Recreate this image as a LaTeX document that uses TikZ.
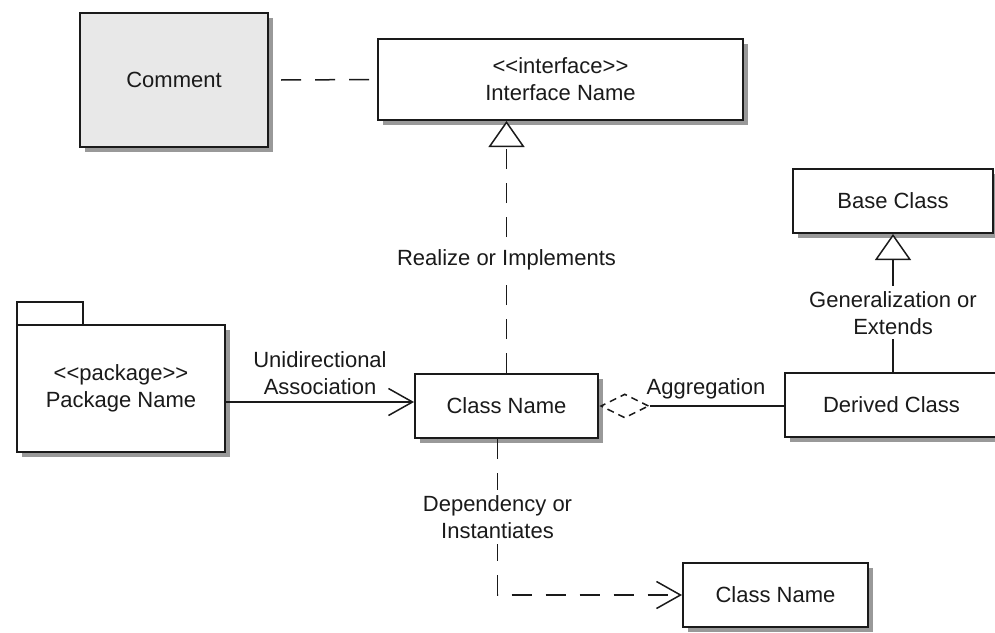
\documentclass[tikz,border=0pt]{standalone}
\usepackage{fontspec}
\setmainfont{Liberation Sans}[Ligatures=TeXOff]
\usetikzlibrary{arrows.meta,shadows,shapes.geometric}
\definecolor{ink}{HTML}{1A1A1A}
\definecolor{commentfill}{HTML}{E8E8E8}
\definecolor{shade}{HTML}{999999}
\tikzset{
  umlbox/.style={draw=ink, line width=2pt, fill=white, align=center, inner sep=0pt,
    font=\fontsize{22}{27}\selectfont, text=ink,
    drop shadow={shadow xshift=4.5pt, shadow yshift=-4.5pt, fill=shade, opacity=1}},
  conn/.style={draw=ink, line width=1.5pt},
  dashline/.style={conn, dash pattern=on 20pt off 14pt},
  lbl/.style={font=\fontsize{22}{27}\selectfont, text=ink, align=center, inner sep=3pt},
  gaplbl/.style={lbl, fill=white, inner sep=5pt},
  openhead/.style={-{Straight Barb[length=24pt,width=27pt,line width=1.5pt]}},
  trihead/.style={-{Triangle[length=26pt,width=36pt,fill=white,line width=1.5pt]}},
}
\begin{document}
\begin{tikzpicture}[x=1pt,y=-1pt]
\useasboundingbox (0,0) rectangle (995,632);
% nodes
\node[umlbox, fill=commentfill, minimum width=188pt, minimum height=134pt] (comment) at (174,80) {Comment};
\node[umlbox, minimum width=365pt, minimum height=81pt] (iface) at (560.5,79.5) {<<interface>>\\Interface Name};
\node[umlbox, minimum width=200pt, minimum height=64pt] (base) at (893,201) {Base Class};
\node[umlbox, minimum width=213pt, minimum height=64pt] (derived) at (891.5,405) {Derived Class};
\node[umlbox, minimum width=183pt, minimum height=64pt] (cls) at (506.5,406) {Class Name};
\node[umlbox, minimum width=185pt, minimum height=64pt] (cls2) at (775.5,595) {Class Name};
% package
\node[draw=ink, line width=2pt, fill=white, minimum width=66pt, minimum height=23pt, inner sep=0pt] (tab) at (50,313.5) {};
\node[umlbox, minimum width=208pt, minimum height=127pt] (pkg) at (121,388.5) {<<package>>\\Package Name};
% aggregation diamond
\node[diamond, draw=ink, line width=1.5pt, dash pattern=on 7pt off 5pt, fill=white, minimum width=48pt, minimum height=24pt, inner sep=0pt, anchor=west] (agg) at ([xshift=1pt]cls.east) {};
% connectors
\coordinate (cstart) at ([xshift=12pt]comment.east);
\draw[dashline] (cstart) -- (iface.west);
\draw[dashline, trihead] (cls.north) -- node[gaplbl, pos=0.449] {Realize or Implements} (cls.north |- iface.south);
\draw[conn, trihead] (derived.north -| base.south) -- node[gaplbl, pos=0.43] {Generalization or\\Extends} (base.south);
\draw[conn, openhead] (pkg.east |- 0,402) -- node[lbl, above=4pt] {Unidirectional\\Association} (cls.west |- 0,402);
\draw[conn] (agg.east) -- node[lbl, above=3pt, pos=0.42] {Aggregation} (agg.east -| derived.west);
\draw[dashline, openhead] ([xshift=-9pt]cls.south) |- node[gaplbl, pos=0.25] {Dependency or\\Instantiates} (cls2.west);
\end{tikzpicture}
\end{document}
